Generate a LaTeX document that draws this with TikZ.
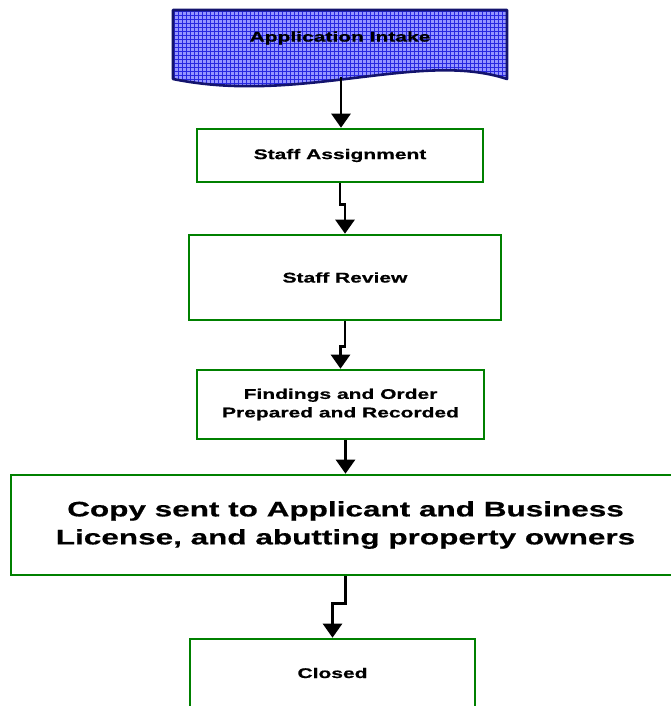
\documentclass[tikz,border=0pt]{standalone}
\usepackage{fontspec}
\setmainfont{Liberation Sans}[FakeStretch=1.5,FakeBold=0.6]
\usetikzlibrary{arrows.meta}
\definecolor{stagegreen}{RGB}{0,128,0}
\definecolor{docfill}{RGB}{150,150,255}
\definecolor{docgrid}{RGB}{40,40,225}
\definecolor{docline}{RGB}{20,20,110}
\tikzset{
  stage/.style={draw=stagegreen,line width=2.6pt,fill=white,align=center,inner sep=0pt,
    font=\fontsize{14}{18.5}\selectfont\bfseries},
  flow/.style={line width=2.6pt,-{Triangle[width=19pt,length=14pt]}},
}
\begin{document}
\begin{tikzpicture}[x=1pt,y=-1pt]
      \useasboundingbox (0,0) rectangle (670,706);
      \path[fill=docfill] (173,10) -- (507,10) -- (507,79)
        .. controls (420,50) and (300,105) .. (173,79) -- cycle;
      \begin{scope}
        \clip (173,10) -- (507,10) -- (507,79)
          .. controls (420,50) and (300,105) .. (173,79) -- cycle;
        \foreach \gx in {174.5,178.5,...,508} {\draw[docgrid,line width=0.8pt] (\gx,9) -- (\gx,92);}
        \foreach \gy in {11.5,15.5,...,92} {\draw[docgrid,line width=0.8pt] (172,\gy) -- (508,\gy);}
      \end{scope}
      \draw[docline,line width=2.6pt,line join=round] (173,10) -- (507,10) -- (507,79)
        .. controls (420,50) and (300,105) .. (173,79) -- cycle;
      \draw
        (340,38) node[font=\fontsize{14}{18}\selectfont\bfseries] (intake){Application Intake}
        (341,77) coordinate (intaketail)
        (340,155.5) node[stage,minimum width=286,minimum height=53] (assign){Staff Assignment}
        (345,277.5) node[stage,minimum width=312,minimum height=85] (review){Staff Review}
        (340.5,404.5) node[stage,minimum width=287,minimum height=69] (findings){Findings and Order\\Prepared and Recorded}
        (345.5,525) node[stage,minimum width=669,minimum height=100,
          font=\fontsize{21}{28}\selectfont\bfseries] (copy){Copy sent to Applicant and Business\\License, and abutting property owners}
        (332.5,673) node[stage,minimum width=285,minimum height=68] (closed){Closed};
      \begin{scope}[flow]
        \draw (intaketail) -- (intaketail |- assign.north);
        \draw (assign.south) -- ++(0,21) -| (review.north);
        \draw (review.south) -- ++(0,25) -| (findings.north);
        \draw (copy.north |- findings.south) -- (copy.north);
        \draw (copy.south) -- ++(0,27) -| (closed.north);
      \end{scope}
    \end{tikzpicture}
\end{document}
